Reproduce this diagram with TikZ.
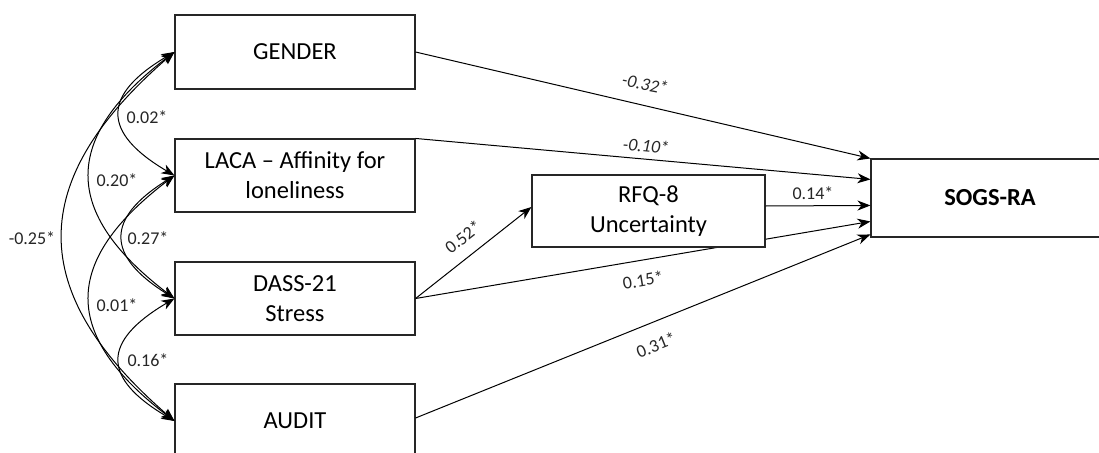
\documentclass[tikz,border=0pt]{standalone}
\usepackage{fontspec}
\setmainfont{Carlito}
\usetikzlibrary{arrows.meta,calc}
\pgfdeclarelayer{bg}
\pgfsetlayers{bg,main}
\begin{document}
\begin{tikzpicture}[x=1pt,y=-1pt,
  box/.style={draw=black!85, line width=1.1pt, fill=white, minimum width=240pt, minimum height=74pt, align=center, font=\fontsize{24.5}{30}\selectfont, inner sep=0pt},
  lbl/.style={font=\fontsize{18}{20}\selectfont, inner sep=0pt, text=black!85},
  ilbl/.style={font=\fontsize{18}{20}\selectfont\itshape, inner sep=0pt, text=black!85},
  tip/.tip={Stealth[length=13pt,width=10pt,inset=4pt]},
  arr/.style={line width=1pt, -tip},
  cov/.style={line width=1pt, tip-tip}
]
\useasboundingbox (0,0) rectangle (1099,452);
\clip (0,0) rectangle (1099,452);

% boxes
\node[box] (gender) at (295,52) {GENDER};
\node[box, minimum height=73pt] (laca) at (295,175.5) {LACA – Affinity for\\loneliness};
\node[box, minimum height=73pt] (dass) at (295,298.5) {DASS-21\\Stress};
\node[box] (audit) at (295,421) {AUDIT};
\node[box, minimum width=233pt, minimum height=72pt] (rfq) at (648.5,211) {RFQ-8\\Uncertainty};
\node[box, minimum width=238pt, minimum height=78pt, font=\fontsize{24.5}{30}\selectfont\bfseries] (sogs) at (990,198) {SOGS-RA};

% direct paths
\draw[arr] (gender.east) -- (sogs.north west);
\draw[arr] (laca.north east) -- ([yshift=-21pt]sogs.north west);
\draw[arr] ([yshift=5pt]rfq.east) -- ([yshift=-47pt]sogs.north west);
\begin{pgfonlayer}{bg}
\draw[arr] (dass.east) -- ([yshift=-63pt]sogs.north west);
\end{pgfonlayer}
\draw[arr] ([yshift=3pt]audit.east) -- ([yshift=-76pt]sogs.north west);
\draw[arr] (dass.east) -- ([yshift=4pt]rfq.west);

% covariances
\draw[cov] (gender.west) .. controls +(-73,43) and +(-73,-43) .. (laca.west);
\draw[cov] (gender.west) .. controls +(-113,86) and +(-113,-86) .. (dass.west);
\draw[cov] (gender.west) .. controls +(-149,129) and +(-149,-129) .. (audit.west);
\draw[cov] (laca.west) .. controls +(-69,43) and +(-69,-43) .. (dass.west);
\draw[cov] (laca.west) .. controls +(-113,86) and +(-113,-86) .. (audit.west);
\draw[cov] (dass.west) .. controls +(-73,43) and +(-73,-43) .. (audit.west);

% labels
\node[lbl] (l02) at (147,117) {0.02*};
\node[lbl] (l20) at (117,180) {0.20*};
\node[lbl] (l27) at (148,238) {0.27*};
\node[lbl] (l01) at (117,305) {0.01*};
\node[lbl] (l16) at (148,360) {0.16*};
\node[lbl] (l25) at (32,238) {-0.25*};
\node[ilbl, rotate=-11] (l32) at (645,84) {-0.32*};
\node[ilbl, rotate=-5] (l10) at (646,146) {-0.10*};
\node[lbl] (l14) at (813,193) {0.14*};
\node[lbl, rotate=9.5] (l15) at (643,280) {0.15*};
\node[lbl, rotate=38] (l52) at (463,237) {0.52*};
\node[lbl, rotate=22] (l31) at (656,345) {0.31*};
\end{tikzpicture}
\end{document}
